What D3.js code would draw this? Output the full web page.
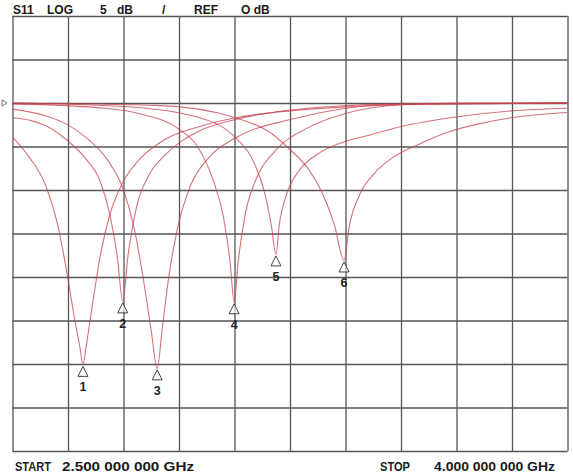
<!DOCTYPE html>
<html>
    <head>
        <title>S11 sweep</title>
        <meta charset="UTF-8">
        <script src="https://cdn.jsdelivr.net/npm/d3@7"></script>
        <style>
body { margin: 0; background: #fff; }
text { font-family: "Liberation Sans", Arial, sans-serif; }
        </style>
    </head>
    <body>
        <script>
// frequency in GHz, S11 in dB
var curve1 = [[2.500,-3.9],[2.548,-6.4],[2.589,-9.4],[2.621,-13.8],[2.645,-19.0],[2.667,-24.6],[2.683,-28.3],[2.6905,-30.1],
              [2.699,-28.0],[2.715,-23.5],[2.737,-17.6],[2.764,-12.7],[2.796,-9.3],[2.845,-6.4],[2.912,-4.2],[3.006,-2.7],
              [3.103,-1.7],[3.251,-0.9],[3.402,-0.45],[3.550,-0.2],[3.700,-0.1],[4.000,0]];
var curve2 = [[2.500,-1.7],[2.548,-2.0],[2.589,-2.6],[2.645,-4.2],[2.700,-6.5],[2.737,-9.0],[2.764,-13.0],[2.783,-17.6],[2.798,-22.8],
              [2.812,-17.6],[2.835,-12.0],[2.870,-8.2],[2.912,-6.0],[3.006,-3.2],[3.103,-1.9],[3.251,-0.8],[3.402,-0.3],[3.550,-0.1],[4.000,0]];
var curve3 = [[2.500,-0.7],[2.600,-1.6],[2.645,-2.4],[2.700,-4.0],[2.764,-7.0],[2.800,-10.0],[2.830,-14.6],[2.855,-20.6],[2.875,-26.2],[2.891,-30.5],
              [2.905,-25.8],[2.920,-20.7],[2.945,-14.6],[2.980,-9.6],[3.030,-6.3],[3.103,-4.0],[3.251,-1.9],[3.402,-0.6],[3.550,-0.15],[4.000,0]];
var curve4 = [[2.500,-0.1],[2.750,-0.6],[2.850,-1.3],[2.950,-3.0],[3.000,-5.0],[3.040,-8.6],[3.070,-13.1],[3.088,-18.2],[3.099,-22.9],
              [3.110,-18.2],[3.130,-12.6],[3.160,-8.6],[3.210,-5.5],[3.300,-2.8],[3.400,-1.2],[3.550,-0.2],[3.700,0],[4.000,0]];
var curve5 = [[2.500,0],[2.800,-0.4],[3.006,-1.7],[3.103,-4.0],[3.150,-6.6],[3.180,-10.1],[3.200,-14.2],[3.212,-17.4],
              [3.222,-13.7],[3.240,-10.6],[3.276,-7.7],[3.320,-6.0],[3.380,-4.7],[3.464,-3.7],[3.550,-2.7],[3.698,-1.6],[3.850,-0.9],[4.000,-0.6]];
var curve6 = [[2.500,0],[2.900,-0.3],[3.103,-1.7],[3.200,-3.5],[3.251,-5.4],[3.300,-7.6],[3.340,-10.6],[3.370,-14.0],[3.396,-18.1],
              [3.410,-14.2],[3.440,-10.4],[3.480,-8.0],[3.530,-6.2],[3.600,-4.7],[3.680,-3.3],[3.760,-2.4],[3.849,-1.7],[4.000,-1.1]];

var markerFreq  = [2.6905, 2.798, 2.891, 3.099, 3.212, 3.396];
var markerDb    = [-30.1, -22.8, -30.5, -22.9, -17.4, -18.1];
var markerLabel = ["1", "2", "3", "4", "5", "6"];

var freqTicks = [2.5, 2.65, 2.8, 2.95, 3.1, 3.25, 3.4, 3.55, 3.7, 3.85, 4.0];
var dbTicks   = [10, 5, 0, -5, -10, -15, -20, -25, -30, -35, -40];

var svg = d3.select("body").append("svg")
    .attr("width", 573)
    .attr("height", 476);

var x = d3.scaleLinear().domain([2.5, 4.0]).range([12.5, 567.5]);
var y = d3.scaleLinear().domain([10, -40]).range([16, 451]);

// grid
svg.append("g")
    .attr("transform", "translate(0,451)")
    .call(d3.axisBottom(x).tickValues(freqTicks).tickSize(-435).tickFormat(""))
    .call(function(g){ g.select(".domain").remove(); })
    .selectAll("line").attr("stroke", "#555").attr("stroke-width", 1.3);
svg.append("g")
    .attr("transform", "translate(12.5,0)")
    .call(d3.axisLeft(y).tickValues(dbTicks).tickSize(-555).tickFormat(""))
    .call(function(g){ g.select(".domain").remove(); })
    .selectAll("line").attr("stroke", "#555").attr("stroke-width", 1.3);

svg.append("clipPath").attr("id", "clip")
  .append("rect").attr("x", 12.5).attr("y", 16).attr("width", 555).attr("height", 435);

var line = d3.line()
    .x(function(d){ return x(d[0]); })
    .y(function(d){ return y(d[1]); })
    .curve(d3.curveMonotoneX);

var curves = [curve1, curve2, curve3, curve4, curve5, curve6];
svg.append("g").attr("clip-path", "url(#clip)")
    .selectAll("path")
    .data(curves)
    .enter()
    .append("path")
    .attr("d", line)
    .attr("fill", "none")
    .attr("stroke", "#c8414f")
    .attr("stroke-opacity", 0.75)
    .attr("stroke-width", 1.1);

// reference level pointer
svg.append("path")
    .attr("d", "M2," + (y(0) - 3) + "L7," + y(0) + "L2," + (y(0) + 3) + "Z")
    .attr("fill", "#fff")
    .attr("stroke", "#777")
    .attr("stroke-width", 1);

// markers
var mk = svg.append("g").selectAll("g")
    .data(markerFreq)
    .enter()
    .append("g")
    .attr("transform", function(d, i){ return "translate(" + x(d) + "," + (y(markerDb[i]) + 1.5) + ")"; });
mk.append("path")
    .attr("d", "M0,0L5,10L-5,10Z")
    .attr("fill", "#fff")
    .attr("fill-opacity", 0.6)
    .attr("stroke", "#444")
    .attr("stroke-width", 1);
mk.append("text")
    .attr("y", 25)
    .attr("text-anchor", "middle")
    .attr("font-size", 12.5)
    .attr("font-weight", "bold")
    .attr("fill", "#222")
    .text(function(d, i){ return markerLabel[i]; });

// header
var header = [["S11", 13], ["LOG", 47], ["5", 100], ["dB", 117], ["/", 162], ["REF", 194], ["O dB", 241]];
svg.append("g").selectAll("text")
    .data(header)
    .enter()
    .append("text")
    .attr("x", function(d){ return d[1]; })
    .attr("y", 13.5)
    .attr("font-size", 12)
    .attr("font-weight", "bold")
    .attr("fill", "#1a1a1a")
    .text(function(d){ return d[0]; });

// footer
var footer = [["START", 15, 36], ["2.500 000 000 GHz", 62, 132], ["STOP", 380, 30], ["4.000 000 000 GHz", 434, 121]];
svg.append("g").selectAll("text")
    .data(footer)
    .enter()
    .append("text")
    .attr("x", function(d){ return d[1]; })
    .attr("y", 471)
    .attr("font-size", 12)
    .attr("font-weight", "bold")
    .attr("fill", "#1a1a1a")
    .attr("textLength", function(d){ return d[2]; })
    .attr("lengthAdjust", "spacingAndGlyphs")
    .text(function(d){ return d[0]; });
        </script>
    </body>
</html>
